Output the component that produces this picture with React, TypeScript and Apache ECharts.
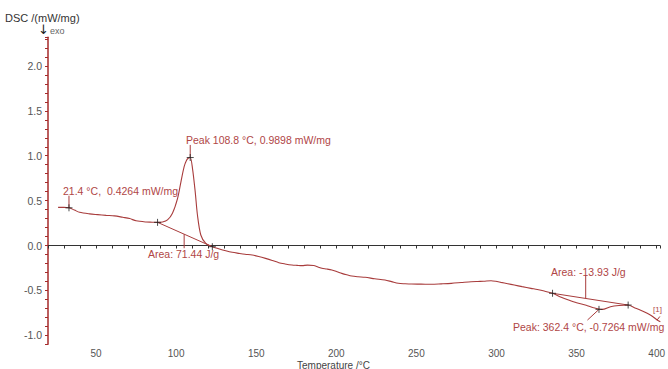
import React, { useEffect, useRef } from "react";
import * as echarts from "echarts";

// Main DSC curve (temperature °C, DSC mW/mg)
const temps = [
  26.3, 30, 33.1, 36.5, 39.7, 46, 51, 56.3, 61.5, 66.7, 71, 75, 81.2, 85, 88.4, 91.5, 94.6, 97.7, 100.9, 103,
  105, 106.5, 107.7, 108.8, 110.2, 111.9, 113.3, 115.4, 118.5, 122.6, 126.5, 131, 135, 139.2, 143, 147.5,
  151.5, 155.8, 160, 164.1, 168, 172.3, 175.5, 178.6, 182, 185.8, 188.5, 191, 194, 197.2, 200.5, 203.4,
  206.5, 209.6, 213.5, 218, 224, 230.4, 234.5, 238.7, 243, 247, 253, 259.4, 265.5, 271.8, 278, 284.2,
  288.4, 292, 296.6, 299.5, 302.8, 307, 311.1, 316, 321.5, 325.5, 329.8, 335, 340, 345, 350, 356, 360,
  366, 371.2, 376.5, 382.2, 385.8, 390, 394.1, 397.5, 400.3, 402.3,
];
const dscValues = [
  0.425, 0.425, 0.42, 0.395, 0.37, 0.352, 0.344, 0.336, 0.33, 0.314, 0.3, 0.275, 0.262, 0.26, 0.258, 0.262,
  0.285, 0.36, 0.526, 0.71, 0.878, 0.95, 0.975, 0.98, 0.86, 0.6, 0.34, 0.117, 0.024, -0.013, -0.035,
  -0.058, -0.075, -0.087, -0.097, -0.106, -0.122, -0.143, -0.166, -0.191, -0.205, -0.217, -0.221, -0.224,
  -0.218, -0.222, -0.238, -0.254, -0.262, -0.273, -0.292, -0.31, -0.326, -0.34, -0.348, -0.354, -0.37,
  -0.384, -0.402, -0.421, -0.426, -0.429, -0.43, -0.432, -0.427, -0.421, -0.412, -0.403, -0.4, -0.398,
  -0.392, -0.398, -0.41, -0.425, -0.44, -0.458, -0.477, -0.49, -0.507, -0.532, -0.572, -0.607, -0.638,
  -0.665, -0.69, -0.711, -0.681, -0.668, -0.663, -0.69, -0.72, -0.755, -0.79, -0.83, -0.849,
];

// Integration baselines
const baseline1 = [[88.4, 0.258], [122.6, -0.013]];
const baseline2 = [[335, -0.532], [382.2, -0.663]];

// Evaluation markers
const markers = [
  [33.1, 0.42], [88.4, 0.258], [108.8, 0.98], [122.6, -0.013],
  [335, -0.532], [364, -0.711], [382.2, -0.663],
];

// Leader lines for annotations
const leaders = [
  [[33.1, 0.42], [33.1, 0.555]],
  [[108.8, 0.98], [108.8, 1.12]],
  [[105, 0.126], [105, -0.03]],
  [[355.7, -0.589], [355.7, -0.33]],
  [[364, -0.711], [356.8, -0.83]],
  [[400.3, -0.83], [402, -0.79]],
];

const annotationTexts = [
  "21.4 °C,  0.4264 mW/mg",
  "Peak 108.8 °C, 0.9898 mW/mg",
  "Area: 71.44 J/g",
  "Area: -13.93 J/g",
  "Peak: 362.4 °C, -0.7264 mW/mg",
  "[1]",
];

const xMin = 20;
const xMax = 402;
const yMin = -1.1;
const yMax = 2.32;

export default function App() {
  const ref = useRef<HTMLDivElement>(null);

  useEffect(() => {
    if (!ref.current) return;
    const chart = echarts.init(ref.current, undefined, { renderer: "svg" });
    const curveColor = "#a83c3c";
    const textColor = "#b04646";
    const font = "'Liberation Sans', Arial, sans-serif";

    const annPos = [
      { x: 63, y: 185 },
      { x: 186, y: 134 },
      { x: 148, y: 248 },
      { x: 551, y: 266 },
      { x: 513, y: 321 },
      { x: 653, y: 305 },
    ];

    chart.setOption({
      animation: false,
      textStyle: { fontFamily: font },
      grid: { left: 48, right: 5.5, top: 37.2, bottom: 24.7, containLabel: false },
      xAxis: {
        type: "value",
        min: xMin,
        max: xMax,
        interval: 10,
        axisLine: { show: true, lineStyle: { color: "#333", width: 1 } },
        axisTick: { show: true, length: 3, lineStyle: { color: "#333" } },
        splitLine: { show: false },
        axisLabel: {
          color: "#555",
          fontSize: 10,
          margin: 4,
          fontFamily: font,
          formatter: (v: number) => (Math.round(v) % 50 === 0 ? String(Math.round(v)) : ""),
        },
      },
      yAxis: {
        type: "value",
        min: yMin,
        max: yMax,
        interval: 0.1,
        axisLine: { show: true, lineStyle: { color: "#a52a2a", width: 1.5 } },
        axisTick: { show: true, length: 3, lineStyle: { color: "#a52a2a" } },
        splitLine: { show: false },
        axisLabel: {
          color: "#555",
          fontSize: 10.5,
          margin: 6,
          fontFamily: font,
          formatter: (v: number) => {
            const r = Math.round(v * 10);
            return r % 5 === 0 && v <= 2.05 ? (r / 10).toFixed(1) : "";
          },
        },
      },
      series: [
        {
          type: "line",
          data: temps.map((t, i) => [t, dscValues[i]]),
          showSymbol: false,
          smooth: 0.3,
          lineStyle: { color: curveColor, width: 1.1 },
          silent: true,
        },
        {
          type: "line",
          data: baseline1,
          showSymbol: false,
          lineStyle: { color: curveColor, width: 1 },
          silent: true,
        },
        {
          type: "line",
          data: baseline2,
          showSymbol: false,
          lineStyle: { color: curveColor, width: 1 },
          silent: true,
        },
        ...leaders.map((l) => ({
          type: "line",
          data: l,
          showSymbol: false,
          lineStyle: { color: curveColor, width: 1 },
          silent: true,
        })),
        {
          type: "scatter",
          data: markers,
          symbol: "path://M0,5L10,5M5,0L5,10",
          symbolSize: 7,
          itemStyle: { color: "none", borderColor: "#222", borderWidth: 1 },
          silent: true,
          z: 5,
        },
      ],
      graphic: [
        {
          type: "text",
          left: 5,
          top: 12,
          style: { text: "DSC /(mW/mg)", fill: "#333", fontSize: 11, fontFamily: font },
        },
        {
          type: "text",
          left: 38,
          top: 23,
          style: { text: "↓", fill: "#222", fontSize: 13, fontFamily: "'DejaVu Sans', sans-serif" },
        },
        {
          type: "text",
          left: 50,
          top: 26,
          style: { text: "exo", fill: "#666", fontSize: 9, fontFamily: font },
        },
        {
          type: "text",
          left: 297,
          top: 360,
          style: { text: "Temperature /°C", fill: "#444", fontSize: 10, fontFamily: font },
        },
        ...annotationTexts.map((t, i) => ({
          type: "text",
          left: annPos[i].x,
          top: annPos[i].y,
          style: { text: t, fill: textColor, fontSize: i === 5 ? 8 : 10.5, fontFamily: font },
        })),
      ],
    });
    return () => chart.dispose();
  }, []);

  return (
    <div style={{ position: "fixed", left: 0, top: 0, width: 668, height: 369, background: "#fff" }}>
      <div ref={ref} style={{ width: 668, height: 369 }} />
    </div>
  );
}
